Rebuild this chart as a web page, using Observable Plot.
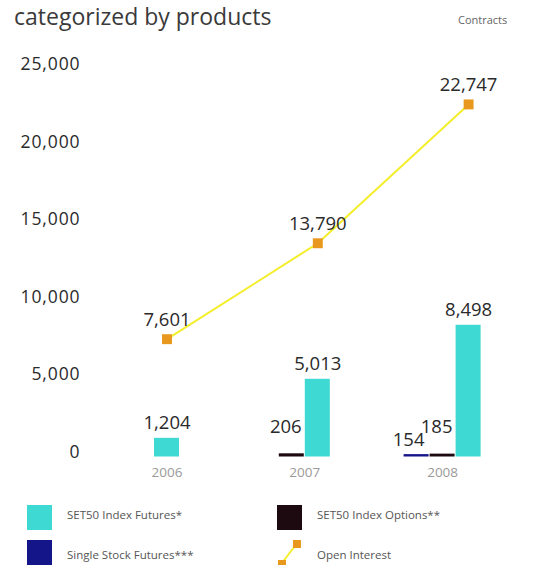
<!DOCTYPE html>
<html><head><meta charset="utf-8">
<script src="https://cdn.jsdelivr.net/npm/d3@7"></script>
<script src="https://cdn.jsdelivr.net/npm/@observablehq/plot@0.6"></script>
<style>
body{margin:0;background:#fff;font-family:"Open Sans",sans-serif;}
#wrap{position:relative;width:540px;height:565px;overflow:hidden;background:#fff}
#chart{position:absolute;left:0;top:0}
#chart g[aria-label="y-axis tick label"] text{letter-spacing:0.9px}
#title{position:absolute;left:14px;top:0px;font-size:23px;color:#3a3a3a;white-space:nowrap}
#unit{position:absolute;left:458px;top:12px;font-size:11px;color:#666}
.sw{position:absolute;width:25px;height:25px}
.lt{position:absolute;font-size:11.5px;color:#555;white-space:nowrap;line-height:16px}
</style></head>
<body>
<div id="wrap">
  <div id="chart"></div>
  <div id="title">categorized by products</div>
  <div id="unit">Contracts</div>
  <div id="legend"></div>
</div>
<script>
// ---- data ----
const years = ["2006", "2007", "2008"];
const products = ["Single Stock Futures***", "SET50 Index Options**", "SET50 Index Futures*"];
const singleStockFutures = [null, null, 154];
const indexOptions = [null, 206, 185];
const indexFutures = [1204, 5013, 8498];
const openInterest = [7601, 13790, 22747];
const yTicks = [0, 5000, 10000, 15000, 20000, 25000];
const colors = ["#15158a", "#1c0a10", "#3ed9d2"];
const lineColor = "#f4ee2a";
const markerColor = "#e8981c";

// ---- layout (slot units: one bar = 1) ----
const GROUP = 5.3;
const series = [singleStockFutures, indexOptions, indexFutures];
const bars = [];
years.forEach((yr, g) => {
  const present = products.map((p, i) => ({product: p, value: series[i][g]})).filter(d => d.value != null);
  const n = present.length;
  present.forEach((d, k) => bars.push({year: yr, g, product: d.product, value: d.value, slot: g * GROUP + (k - (n - 1) / 2)}));
});
const futBars = bars.filter(d => d.product === products[2]);
const optBars = bars.filter(d => d.product === products[1]);
const ssfBars = bars.filter(d => d.product === products[0]);
const oi = years.map((yr, g) => ({year: yr, value: openInterest[g], slot: futBars.find(b => b.year === yr).slot}));
const fmt = d3.format(",");

const chart = Plot.plot({
  width: 540, height: 485,
  marginLeft: 83, marginTop: 0, marginBottom: 0, marginRight: 0,
  x: {type: "linear", domain: [0, 2 * GROUP], range: [166.5, 166.5 + 26 * 2 * GROUP], axis: null},
  y: {domain: [0, 25000], range: [456.5, 69], axis: null},
  color: {domain: products, range: colors},
  style: {fontFamily: "Open Sans", background: "transparent", overflow: "visible"},
  marks: [
    Plot.axisY(yTicks, {tickSize: 0, tickPadding: 3, tickFormat: fmt, label: null, fontSize: 17.5, fill: "#2a2a2a", dy: -5}),
    Plot.rectY(bars, {x1: d => d.slot - 0.5, x2: d => d.slot + 0.5, y: "value", fill: "product", insetLeft: 0.5, insetRight: 0.5}),
    Plot.text(years, {x: (d, i) => i * GROUP, y: () => 0, text: d => d, dy: 16, fill: "#9a9a9a", fontSize: 13.5}),
    Plot.line(oi, {x: "slot", y: "value", stroke: lineColor, strokeWidth: 2}),
    Plot.dot(oi, {x: "slot", y: "value", symbol: "square", r: 5.6, fill: markerColor}),
    Plot.text(oi, {x: "slot", y: "value", text: d => fmt(d.value), dy: -19, fontSize: 18.5, fill: "#2a2a2a"}),
    Plot.text(futBars, {x: "slot", y: "value", text: d => fmt(d.value), dy: -15, fontSize: 18.5, fill: "#2a2a2a"}),
    Plot.text(optBars, {x: "slot", y: "value", text: d => fmt(d.value), dy: -27, dx: -6, fontSize: 18.5, fill: "#2a2a2a"}),
    Plot.text(ssfBars, {x: "slot", y: "value", text: d => fmt(d.value), dy: -15, dx: -8, fontSize: 18.5, fill: "#2a2a2a"})
  ]
});
document.getElementById("chart").append(chart);

// ---- legend ----
const legend = document.getElementById("legend");
const items = [
  {label: products[2], color: colors[2], left: 27, top: 505, tdy: 2},
  {label: products[1], color: colors[1], left: 277, top: 505, tdy: 2},
  {label: products[0], color: colors[0], left: 27, top: 540, tdy: 7},
  {label: "Open Interest", line: true, left: 277, top: 540, tdy: 7}
];
items.forEach(it => {
  if (it.line) {
    const ns = "http://www.w3.org/2000/svg";
    const s = document.createElementNS(ns, "svg");
    s.setAttribute("width", 30); s.setAttribute("height", 30);
    s.style.position = "absolute"; s.style.left = it.left + "px"; s.style.top = (it.top - 2) + "px";
    s.innerHTML = `<line x1="4.5" y1="25.5" x2="19.5" y2="6" stroke="${lineColor}" stroke-width="2"/>
      <rect x="16" y="2" width="8" height="8" fill="${markerColor}"/>
      <rect x="1" y="22" width="8" height="8" fill="${markerColor}"/>`;
    legend.append(s);
  } else {
    const sw = document.createElement("div");
    sw.className = "sw"; sw.style.left = it.left + "px"; sw.style.top = it.top + "px"; sw.style.background = it.color;
    legend.append(sw);
  }
  const t = document.createElement("div");
  t.className = "lt"; t.textContent = it.label;
  t.style.left = (it.left + 40) + "px"; t.style.top = (it.top + it.tdy) + "px";
  legend.append(t);
});
</script>
</body></html>
